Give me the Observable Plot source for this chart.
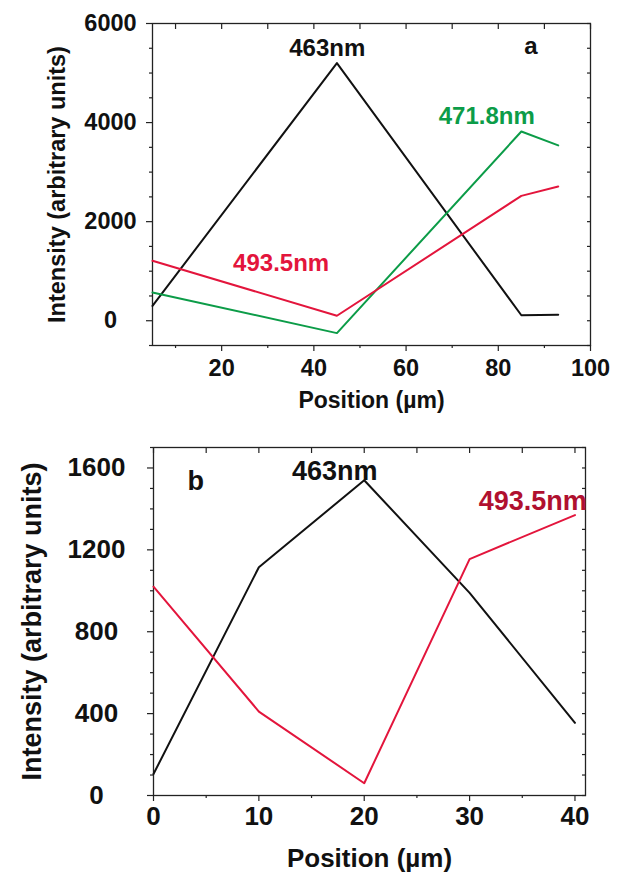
<!DOCTYPE html>
<html><head><meta charset="utf-8">
<script src="https://cdn.jsdelivr.net/npm/d3@7"></script>
<script src="https://cdn.jsdelivr.net/npm/@observablehq/plot@0.6"></script>
<style>
html,body{margin:0;padding:0;background:#fff;}
#chart svg{display:block;}
</style></head><body><div id="chart"></div>
<script>
// ---------- Panel a data ----------
const posA = [5, 45, 85, 93];
const a463 = [300, 5200, 110, 120];
const a4718 = [570, -250, 3820, 3540];
const a4935 = [1210, 100, 2520, 2710];
const aXTicks = [20, 40, 60, 80, 100];
const aYTicks = [0, 2000, 4000, 6000];
const aLabels = [
  {x: 42.9, y: 5490, text: "463nm", color: "#111111"},
  {x: 87.1, y: 5530, text: "a", color: "#111111"},
  {x: 77.5, y: 4120, text: "471.8nm", color: "#0c9c48"},
  {x: 32.9, y: 1150, text: "493.5nm", color: "#e3153c"}
];
// ---------- Panel b data ----------
const posB = [0, 10, 20, 30, 40];
const b463 = [105, 1115, 1540, 990, 355];
const b4935 = [1020, 410, 60, 1155, 1370];
const bXTicks = [0, 10, 20, 30, 40];
const bYTicks = [0, 400, 800, 1200, 1600];
const bLabels = [
  {x: 17.2, y: 1585, text: "463nm", color: "#111111"},
  {x: 4.0, y: 1535, text: "b", color: "#111111"},
  {x: 36.0, y: 1436, text: "493.5nm", color: "#b0102f"}
];

const FONT = "'Liberation Sans', Arial, Helvetica, sans-serif";
const BLACK = "#111111", RED = "#e3153c", GREEN = "#0c9c48";
const rows = (xs, ys) => xs.map((x, i) => ({x, y: ys[i]}));

function tickAxes(xMajor, xMinor, xTop, yMajor, yMinor, yRight) {
  const common = {fill: "none", label: null, stroke: "#222", strokeWidth: 1.2};
  return [
    Plot.axisX(xMajor, {...common, anchor: "bottom", tickSize: 6}),
    Plot.axisX(xMinor, {...common, anchor: "bottom", tickSize: 3}),
    Plot.axisX(xTop, {...common, anchor: "top", tickSize: -5}),
    Plot.axisY(yMajor, {...common, anchor: "left", tickSize: 6}),
    Plot.axisY(yMinor, {...common, anchor: "left", tickSize: 3}),
    Plot.axisY(yRight, {...common, anchor: "right", tickSize: -4})
  ];
}

const plotA = Plot.plot({
  width: 637, height: 430,
  marginTop: 23, marginRight: 47, marginBottom: 85, marginLeft: 152,
  x: {domain: [5, 100]},
  y: {domain: [-500, 6000]},
  style: {fontFamily: FONT, background: "white", color: "#111"},
  marks: [
    ...tickAxes(aXTicks, [10, 30, 50, 70, 90], d3.range(10, 101, 10),
                aYTicks, d3.range(-500, 6001, 500).filter(v => !aYTicks.includes(v)), d3.range(-500, 6001, 500)),
    Plot.frame({stroke: "#222", strokeWidth: 1.3}),
    Plot.line(rows(posA, a463), {x: "x", y: "y", stroke: BLACK, strokeWidth: 2}),
    Plot.line(rows(posA, a4718), {x: "x", y: "y", stroke: GREEN, strokeWidth: 2}),
    Plot.line(rows(posA, a4935), {x: "x", y: "y", stroke: RED, strokeWidth: 2}),
    Plot.text(aLabels, {x: "x", y: "y", text: "text", fill: "color", fontSize: 24, fontWeight: "bold"}),
    Plot.text(aXTicks, {x: d => d, frameAnchor: "bottom", dy: 30, text: d => String(d), fontSize: 23.5, fontWeight: "bold", fill: BLACK}),
    Plot.text(aYTicks, {y: d => d, frameAnchor: "left", dx: -42, text: d => String(d), fontSize: 23.5, fontWeight: "bold", fill: BLACK, textAnchor: "middle"}),
    Plot.text(["Position (µm)"], {frameAnchor: "bottom", dy: 62, text: d => d, fontSize: 23, fontWeight: "bold", fill: BLACK, textAnchor: "middle"}),
    Plot.text(["Intensity (arbitrary units)"], {frameAnchor: "left", dx: -95, rotate: -90, text: d => d, fontSize: 23.5, fontWeight: "bold", fill: BLACK, textAnchor: "middle"})
  ]
});

const plotB = Plot.plot({
  width: 637, height: 452,
  marginTop: 17, marginRight: 52, marginBottom: 87, marginLeft: 153,
  x: {domain: [0, 41]},
  y: {domain: [0, 1700]},
  style: {fontFamily: FONT, background: "white", color: "#111"},
  marks: [
    ...tickAxes(bXTicks, [5, 15, 25, 35], d3.range(0, 41, 5),
                bYTicks, d3.range(0, 1701, 100).filter(v => !bYTicks.includes(v)), d3.range(0, 1701, 100)),
    Plot.frame({stroke: "#222", strokeWidth: 1.3}),
    Plot.line(rows(posB, b463), {x: "x", y: "y", stroke: BLACK, strokeWidth: 2}),
    Plot.line(rows(posB, b4935), {x: "x", y: "y", stroke: RED, strokeWidth: 2}),
    Plot.text(bLabels, {x: "x", y: "y", text: "text", fill: "color", fontSize: 27, fontWeight: "bold"}),
    Plot.text(bXTicks, {x: d => d, frameAnchor: "bottom", dy: 29, text: d => String(d), fontSize: 26, fontWeight: "bold", fill: BLACK}),
    Plot.text(bYTicks, {y: d => d, frameAnchor: "left", dx: -57, text: d => String(d), fontSize: 26, fontWeight: "bold", fill: BLACK, textAnchor: "middle"}),
    Plot.text(["Position (µm)"], {frameAnchor: "bottom", dy: 71, text: d => d, fontSize: 26, fontWeight: "bold", fill: BLACK, textAnchor: "middle"}),
    Plot.text(["Intensity (arbitrary units)"], {frameAnchor: "left", dx: -121, rotate: -90, text: d => d, fontSize: 27, fontWeight: "bold", fill: BLACK, textAnchor: "middle"})
  ]
});

const el = document.getElementById("chart");
el.appendChild(plotA);
el.appendChild(plotB);
</script>
</body></html>
